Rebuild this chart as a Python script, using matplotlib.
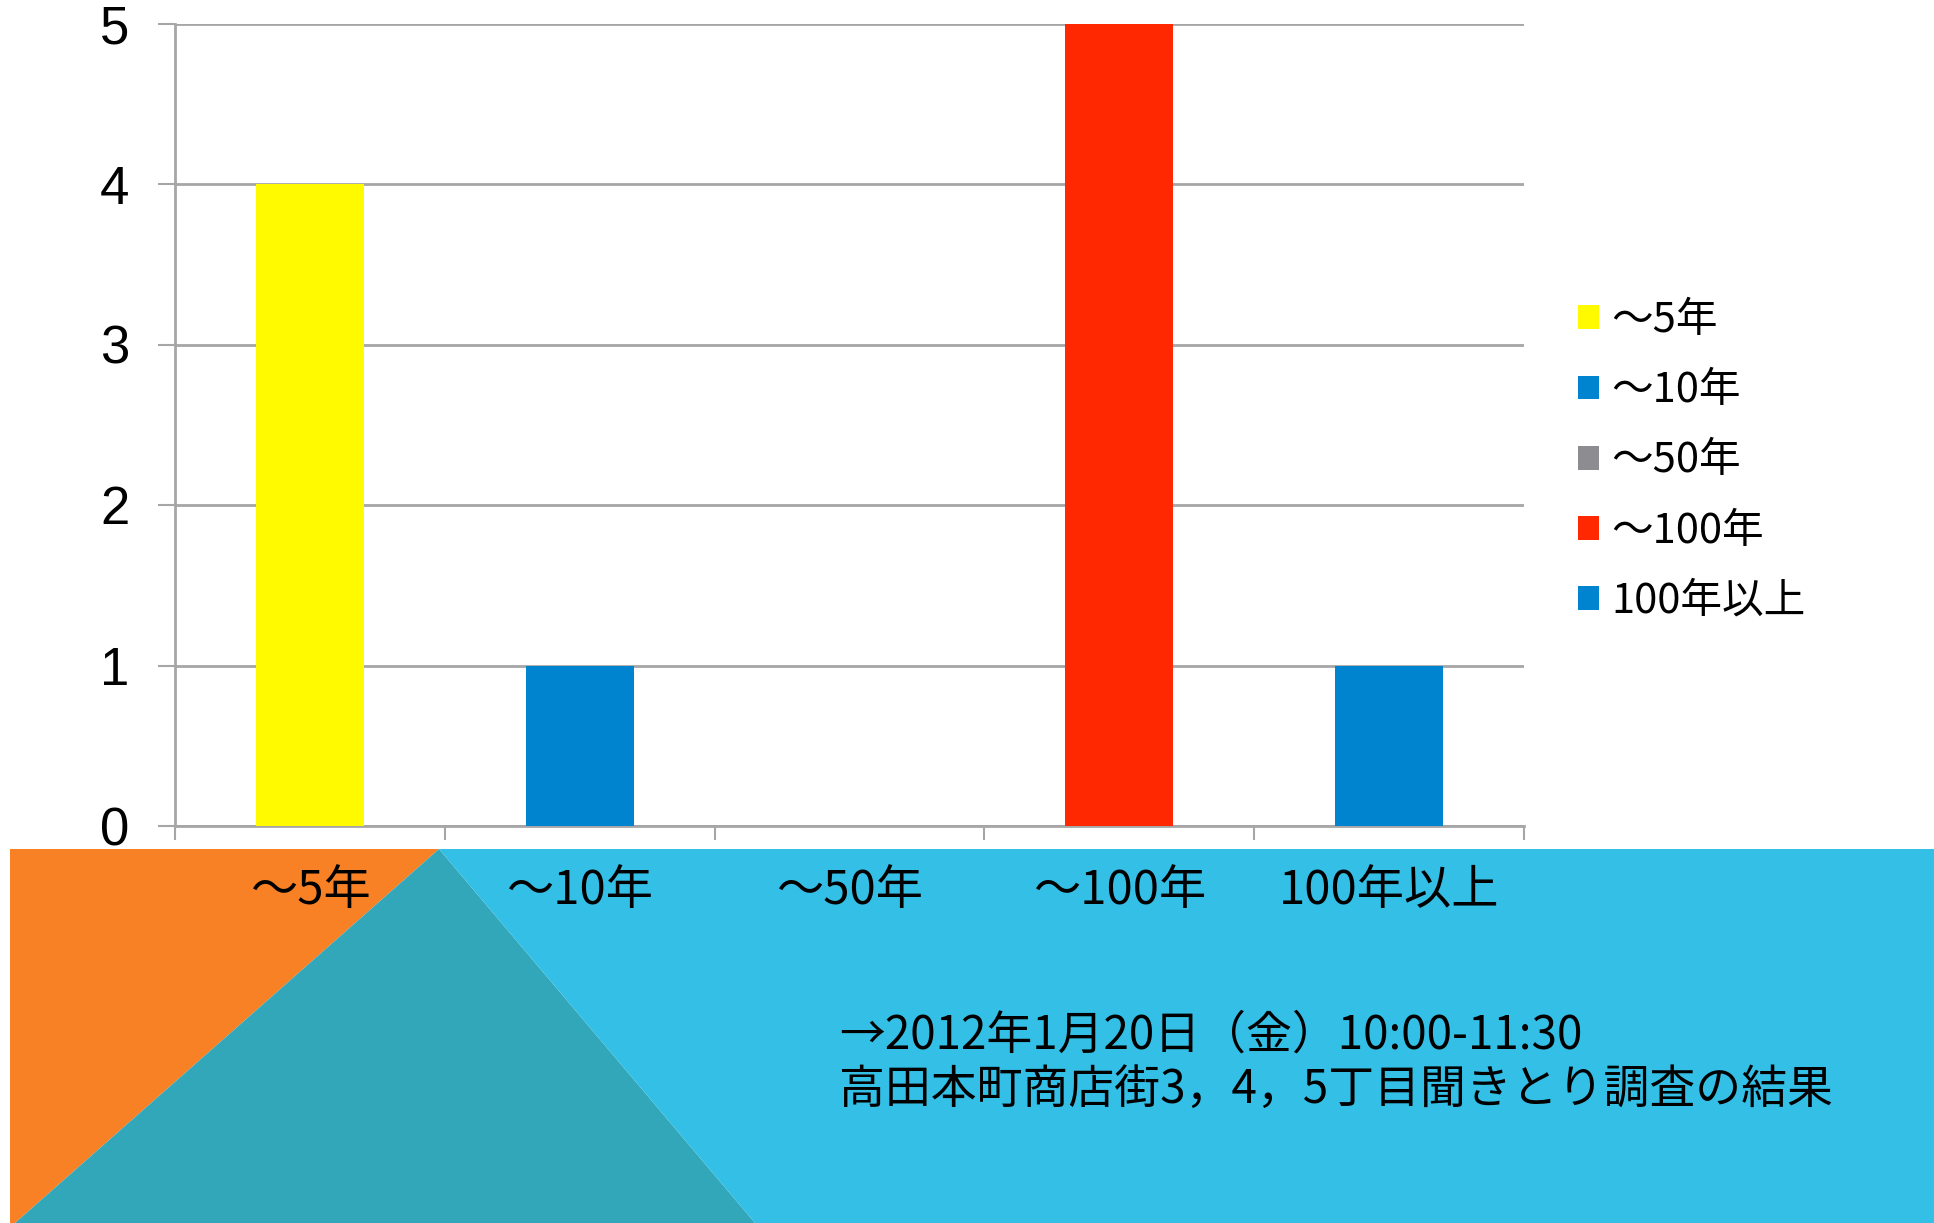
import matplotlib
matplotlib.use("Agg")
import matplotlib.pyplot as plt
from matplotlib.patches import Polygon

categories = ['～5年', '～10年', '～50年', '～100年', '100年以上']
values = [4, 1, 0, 5, 1]
bar_colors = ['#FFFA00', '#0084CF', '#8C8C91', '#FF2800', '#0084CF']
yticks = [0, 1, 2, 3, 4, 5]
note_line1 = '→2012年1月20日（金）10:00-11:30'
note_line2 = '高田本町商店街3，4，5丁目聞きとり調査の結果'

CJK = ['Noto Sans CJK JP', 'DejaVu Sans']
NUM = ['Liberation Sans', 'DejaVu Sans']

W, H = 1934, 1223
fig = plt.figure(figsize=(W / 100, H / 100), dpi=100)
fig.patch.set_facecolor('white')

def fx(px):
    return px / W

def fy(py):
    return 1 - py / H

# background band shapes
band_top = 849
apex_x = 439
orange = Polygon([(fx(10), fy(band_top)), (fx(apex_x), fy(band_top)), (fx(15), fy(H)), (fx(10), fy(H))],
                 closed=True, transform=fig.transFigure, facecolor='#F98125', edgecolor='none', zorder=-2)
teal = Polygon([(fx(apex_x), fy(band_top)), (fx(755), fy(H)), (fx(15), fy(H))],
               closed=True, transform=fig.transFigure, facecolor='#33A7BA', edgecolor='none', zorder=-2)
lblue = Polygon([(fx(apex_x), fy(band_top)), (fx(W), fy(band_top)), (fx(W), fy(H)), (fx(755), fy(H))],
                closed=True, transform=fig.transFigure, facecolor='#33BFE6', edgecolor='none', zorder=-2)
for p in (orange, teal, lblue):
    fig.patches.append(p)

ax = fig.add_axes([fx(175), fy(826), fx(1524) - fx(175), fy(23.5) - fy(826)])
ax.set_zorder(1)
ax.patch.set_alpha(0)

x = list(range(len(categories)))
for i in x:
    ax.bar(i, values[i], width=0.4, color=bar_colors[i], label=categories[i], zorder=3)

ax.set_xlim(-0.5, len(categories) - 0.5)
ax.set_ylim(0, 5)

grid_c = '#A6A6A6'
ax.set_yticks(yticks)
ax.set_yticklabels([str(v) for v in yticks], fontfamily=NUM, fontsize=38)
ax.yaxis.grid(True, color=grid_c, linewidth=2.0, zorder=1)
ax.set_axisbelow(True)
ax.tick_params(axis='y', direction='out', length=12, width=1.5, color=grid_c, pad=21)

ax.set_xticks([i - 0.5 for i in range(len(categories) + 1)])
ax.set_xticklabels([])
ax.tick_params(axis='x', which='major', direction='out', length=10, width=1.5, color=grid_c)
ax.set_xticks(x, minor=True)
ax.set_xticklabels(categories, minor=True, fontfamily=CJK, fontsize=34)
ax.tick_params(axis='x', which='minor', length=0, pad=29)

for s in ('top', 'right'):
    ax.spines[s].set_visible(False)
for s in ('left', 'bottom'):
    ax.spines[s].set_color(grid_c)
    ax.spines[s].set_linewidth(2.0)

leg = fig.legend(loc='center left', bbox_to_anchor=(fx(1578), fy(461)), frameon=False,
                 prop={'family': CJK, 'size': 30}, handlelength=0.5, handleheight=0.5,
                 handletextpad=0.3, labelspacing=0.7, borderpad=0, borderaxespad=0)

fig.text(fx(839), fy(1035), note_line1, fontfamily=CJK, fontsize=33, ha='left', va='center', color='black')
fig.text(fx(839), fy(1090), note_line2, fontfamily=CJK, fontsize=33, ha='left', va='center', color='black')

fig.savefig('out.png', dpi=100)
